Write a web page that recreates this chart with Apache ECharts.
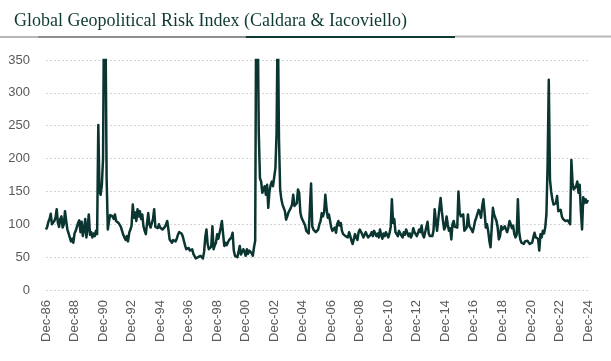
<!DOCTYPE html>
<html>
<head>
<meta charset="utf-8">
<script src="https://cdn.jsdelivr.net/npm/echarts@6/dist/echarts.min.js"></script>
<style>
html,body{margin:0;padding:0;background:#fff;}
#chart{width:611px;height:361px;}
</style>
</head>
<body>
<div id="chart"></div>
<script>
const titleText = 'Global Geopolitical Risk Index (Caldara & Iacoviello)';
const monthNames = ['Jan','Feb','Mar','Apr','May','Jun','Jul','Aug','Sep','Oct','Nov','Dec'];
const tickLabels = ['Dec-86','Dec-88','Dec-90','Dec-92','Dec-94','Dec-96','Dec-98','Dec-00','Dec-02','Dec-04','Dec-06','Dec-08','Dec-10','Dec-12','Dec-14','Dec-16','Dec-18','Dec-20','Dec-22','Dec-24'];
const yTicks = [0, 50, 100, 150, 200, 250, 300, 350];

// Monthly index values (first value = Dec 1986)
const v1986 = [92];
const v1987 = [96, 104, 108, 116, 100, 98, 105, 110, 123, 102, 96, 108];
const v1988 = [112, 95, 100, 120, 105, 92, 86, 80, 74, 78, 72, 86];
const v1989 = [90, 92, 102, 106, 88, 104, 82, 92, 108, 80, 95, 115];
const v1990 = [84, 88, 80, 86, 82, 90, 85, 251, 150, 145, 160, 200];
const v1991 = [480, 420, 170, 92, 105, 114, 117, 112, 108, 115, 105, 104];
const v1992 = [102, 100, 96, 90, 84, 80, 76, 82, 74, 87, 92, 98];
const v1993 = [130, 110, 118, 105, 123, 112, 120, 108, 115, 97, 90, 85];
const v1994 = [88, 117, 100, 95, 98, 108, 123, 96, 98, 94, 100, 95];
const v1995 = [97, 92, 95, 96, 100, 105, 92, 77, 74, 72, 76, 73];
const v1996 = [74, 78, 84, 88, 90, 86, 82, 75, 68, 62, 60, 64];
const v1997 = [60, 58, 62, 55, 52, 48, 45, 50, 47, 52, 50, 48];
const v1998 = [58, 80, 92, 70, 62, 60, 66, 97, 62, 68, 72, 85];
const v1999 = [78, 80, 95, 105, 85, 67, 72, 68, 70, 76, 74, 80];
const v2000 = [87, 60, 52, 55, 50, 58, 67, 54, 56, 62, 58, 52];
const v2001 = [62, 55, 60, 58, 56, 52, 65, 75, 510, 440, 240, 170];
const v2002 = [165, 148, 150, 158, 145, 160, 125, 150, 160, 165, 158, 172];
const v2003 = [185, 240, 430, 230, 153, 138, 130, 128, 120, 107, 112, 118];
const v2004 = [120, 125, 130, 145, 128, 126, 132, 153, 148, 118, 110, 106];
const v2005 = [105, 98, 90, 88, 86, 84, 162, 97, 92, 95, 88, 90];
const v2006 = [92, 100, 105, 117, 112, 118, 145, 125, 110, 115, 105, 95];
const v2007 = [90, 88, 95, 87, 100, 105, 98, 102, 90, 85, 88, 82];
const v2008 = [85, 80, 88, 82, 75, 70, 72, 85, 80, 76, 88, 92];
const v2009 = [92, 85, 80, 82, 88, 86, 80, 78, 84, 88, 82, 90];
const v2010 = [88, 82, 86, 80, 92, 84, 78, 86, 82, 88, 84, 80];
const v2011 = [86, 96, 138, 102, 108, 88, 85, 82, 90, 86, 84, 80];
const v2012 = [88, 84, 92, 90, 82, 86, 80, 84, 94, 88, 90, 82];
const v2013 = [85, 92, 88, 98, 84, 80, 82, 96, 104, 86, 82, 80];
const v2014 = [82, 90, 123, 105, 90, 87, 125, 140, 120, 105, 92, 96];
const v2015 = [112, 100, 90, 94, 77, 100, 105, 96, 98, 95, 150, 118];
const v2016 = [112, 110, 115, 90, 87, 95, 115, 98, 100, 92, 88, 96];
const v2017 = [105, 110, 112, 122, 118, 110, 128, 138, 118, 95, 100, 90];
const v2018 = [75, 65, 95, 125, 115, 110, 105, 95, 77, 82, 97, 92];
const v2019 = [90, 97, 92, 88, 95, 105, 100, 94, 98, 85, 80, 84];
const v2020 = [138, 90, 77, 72, 75, 70, 74, 72, 75, 76, 70, 72];
const v2021 = [72, 80, 87, 80, 82, 78, 60, 85, 80, 90, 86, 95];
const v2022 = [115, 190, 320, 168, 150, 138, 130, 128, 132, 143, 120, 118];
const v2023 = [122, 112, 108, 110, 105, 108, 106, 104, 100, 198, 163, 153];
const v2024 = [153, 158, 165, 148, 160, 120, 92, 141, 132, 138, 133, 137];

const values = [].concat(v1986, v1987, v1988, v1989, v1990, v1991, v1992, v1993, v1994,
  v1995, v1996, v1997, v1998, v1999, v2000, v2001, v2002, v2003, v2004, v2005, v2006,
  v2007, v2008, v2009, v2010, v2011, v2012, v2013, v2014, v2015, v2016, v2017, v2018,
  v2019, v2020, v2021, v2022, v2023, v2024);

// Month categories starting Dec-86
const categories = [];
for (let i = 0; i < values.length; i++) {
  const mIdx = (11 + i) % 12;
  const yr = 1986 + Math.floor((11 + i) / 12);
  categories.push(monthNames[mIdx] + '-' + String(yr % 100).padStart(2, '0'));
}

const chart = echarts.init(document.getElementById('chart'), null, {renderer: 'canvas'});
const labelFont = 'Liberation Sans, Arial, sans-serif';
chart.setOption({
  animation: false,
  backgroundColor: '#ffffff',
  title: {
    text: titleText,
    left: 9,
    top: 7,
    textStyle: {
      fontFamily: 'Liberation Serif, Times New Roman, serif',
      fontSize: 18,
      fontWeight: 'normal',
      color: '#0f3a34'
    }
  },
  graphic: [
    {type: 'rect', shape: {x: 0, y: 36, width: 38, height: 2}, style: {fill: '#b5b8b6'}, silent: true},
    {type: 'rect', shape: {x: 38, y: 36, width: 208, height: 2}, style: {fill: '#8c908e'}, silent: true},
    {type: 'rect', shape: {x: 246, y: 36, width: 209, height: 2}, style: {fill: '#0f3a34'}, silent: true},
    {type: 'rect', shape: {x: 455, y: 35.5, width: 156, height: 2}, style: {fill: '#b5b8b6'}, silent: true}
  ],
  grid: {left: 46, right: 23, top: 60, bottom: 71, containLabel: false},
  xAxis: {
    type: 'category',
    data: categories,
    boundaryGap: false,
    axisLine: {show: false},
    axisTick: {show: false},
    splitLine: {show: false},
    axisLabel: {
      interval: 23,
      rotate: 90,
      margin: 10,
      color: '#595959',
      fontSize: 13,
      fontFamily: labelFont,
      formatter: function (v) { return tickLabels.indexOf(v) >= 0 ? v : ''; }
    }
  },
  yAxis: {
    type: 'value',
    min: yTicks[0],
    max: yTicks[yTicks.length - 1],
    interval: 50,
    axisLine: {show: false},
    axisTick: {show: false},
    splitLine: {show: true, lineStyle: {color: '#d4d4d4', type: [2, 2], width: 1}},
    axisLabel: {color: '#595959', fontSize: 13, fontFamily: labelFont, margin: 16}
  },
  series: [{
    type: 'line',
    data: values,
    showSymbol: false,
    symbol: 'none',
    clip: true,
    lineStyle: {color: '#0a3530', width: 2.5, join: 'round'},
    itemStyle: {color: '#0a3530'}
  }]
});
</script>
</body>
</html>
